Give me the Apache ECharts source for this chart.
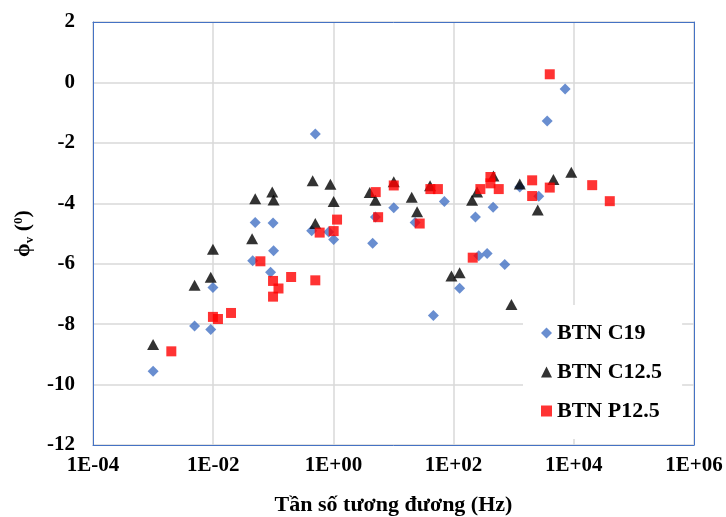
<!DOCTYPE html>
<html>
<head>
<meta charset="utf-8">
<script src="https://cdn.jsdelivr.net/npm/echarts@6/dist/echarts.min.js"></script>
<style>
html,body{margin:0;padding:0;background:#fff;}
#chart{width:726px;height:517px;}
</style>
</head>
<body>
<div id="chart"></div>
<script>
const seriesNames = ['BTN C19', 'BTN C12.5', 'BTN P12.5'];
const xTicks = [1e-4, 1e-2, 1e0, 1e2, 1e4, 1e6];
const yTicks = [-12, -10, -8, -6, -4, -2, 0, 2];

const c19X = [0.001, 0.0049, 0.0091, 0.0099, 0.050, 0.0454, 0.099, 0.101, 0.090, 0.50, 0.435, 0.834, 1.01, 4.5, 5.0, 10.1, 22.9, 70.3, 46.1, 126, 231, 262, 361, 455, 710, 1262, 2612, 3604, 7180];
const c19Y = [-9.56, -8.06, -8.18, -6.79, -4.64, -5.90, -4.65, -5.57, -6.28, -1.71, -4.91, -4.95, -5.20, -5.32, -4.45, -4.15, -4.64, -3.94, -7.71, -6.81, -4.45, -5.74, -5.66, -4.13, -6.03, -3.46, -3.77, -1.28, -0.22];

const c125X = [0.001, 0.0049, 0.0091, 0.0099, 0.0444, 0.050, 0.096, 0.101, 0.452, 0.50, 0.891, 1.01, 4.02, 5.0, 10.1, 20.1, 24.7, 40.6, 92, 126, 203, 246, 460, 917, 1262, 2512, 4581, 9080];
const c125Y = [-8.67, -6.71, -6.45, -5.52, -5.17, -3.85, -3.63, -3.89, -3.25, -4.67, -3.37, -3.94, -3.64, -3.90, -3.29, -3.80, -4.28, -3.42, -6.41, -6.30, -3.90, -3.63, -3.10, -7.35, -3.36, -4.22, -3.21, -2.97];

const p125X = [0.00201, 0.0099, 0.0120, 0.0198, 0.061, 0.099, 0.122, 0.099, 0.198, 0.50, 0.591, 1.01, 1.15, 5.06, 5.55, 10.1, 27.3, 41.1, 54.8, 208, 279, 410, 410, 564, 2028, 2028, 3981, 3981, 20230, 39700];
const p125Y = [-8.90, -7.76, -7.83, -7.63, -5.92, -6.57, -6.82, -7.09, -6.44, -6.55, -4.97, -4.92, -4.54, -3.63, -4.46, -3.41, -4.67, -3.53, -3.53, -5.80, -3.53, -3.13, -3.34, -3.53, -3.24, -3.76, -3.48, 0.27, -3.40, -3.93];

function zip(xs, ys) { return xs.map((x, i) => [x, ys[i]]); }

const FONT = '"Liberation Serif", "Times New Roman", serif';
const BORDER = '#4472C4';

function fmtX(v) {
  const e = Math.round(Math.log10(v));
  const s = e < 0 ? '-' : '+';
  const a = Math.abs(e);
  return '1E' + s + (a < 10 ? '0' + a : '' + a);
}

const xMin = xTicks[0], xMax = xTicks[xTicks.length - 1];
const yMin = yTicks[0], yMax = yTicks[yTicks.length - 1];

const chart = echarts.init(document.getElementById('chart'), null, {renderer: 'canvas'});
chart.setOption({
  animation: false,
  backgroundColor: '#fff',
  grid: {left: 93, right: 32, top: 22, bottom: 72, outerBoundsMode: 'none', containLabel: false},
  xAxis: [{
    type: 'log', logBase: 10, position: 'bottom',
    min: xMin, max: xMax, interval: 2,
    axisLine: {show: true, onZero: false, lineStyle: {color: BORDER, width: 1}},
    axisTick: {show: false},
    splitLine: {show: true, lineStyle: {color: '#D9D9D9', width: 1.5}},
    minorTick: {show: false},
    axisLabel: {
      formatter: fmtX, color: '#000', fontFamily: FONT, fontWeight: 'bold', fontSize: 21, margin: 10
    },
    name: 'Tần số tương đương (Hz)',
    nameLocation: 'middle', nameGap: 49,
    nameTextStyle: {color: '#000', fontFamily: FONT, fontWeight: 'bold', fontSize: 22}
  }, {
    type: 'log', logBase: 10, position: 'top',
    min: xMin, max: xMax, interval: 2,
    axisLine: {show: true, onZero: false, lineStyle: {color: BORDER, width: 1}},
    axisTick: {show: false}, axisLabel: {show: false}, splitLine: {show: false}
  }],
  yAxis: [{
    type: 'value', position: 'left',
    min: yMin, max: yMax, interval: 2,
    axisLine: {show: true, onZero: false, lineStyle: {color: BORDER, width: 1}},
    axisTick: {show: false},
    splitLine: {show: true, lineStyle: {color: '#D9D9D9', width: 1.5}},
    axisLabel: {color: '#000', fontFamily: FONT, fontWeight: 'bold', fontSize: 21, margin: 18},
    name: '{a|ϕ}{sub|v}{a| (}{sup|0}{a|)}',
    nameLocation: 'middle', nameRotate: 90, nameGap: 56,
    nameTextStyle: {
      color: '#000', fontFamily: FONT, fontWeight: 'bold', fontSize: 22,
      rich: {
        a: {fontFamily: FONT, fontWeight: 'bold', fontSize: 22, color: '#000'},
        sub: {fontFamily: FONT, fontWeight: 'bold', fontSize: 13, color: '#000', padding: [12, 0, 0, 0]},
        sup: {fontFamily: FONT, fontWeight: 'bold', fontSize: 13, color: '#000', padding: [0, 0, 10, 0]}
      }
    }
  }, {
    type: 'value', position: 'right',
    min: yMin, max: yMax, interval: 2,
    axisLine: {show: true, onZero: false, lineStyle: {color: BORDER, width: 1}},
    axisTick: {show: false}, axisLabel: {show: false}, splitLine: {show: false}
  }],
  legend: {
    orient: 'vertical',
    left: 523, top: 305,
    padding: [17, 20, 17, 18],
    backgroundColor: '#fff',
    itemGap: 17,
    itemWidth: 11, itemHeight: 11,
    textStyle: {color: '#000', fontFamily: FONT, fontWeight: 'bold', fontSize: 22, lineHeight: 22},
    data: [
      {name: seriesNames[0], icon: 'diamond'},
      {name: seriesNames[1], icon: 'triangle'},
      {name: seriesNames[2], icon: 'rect'}
    ]
  },
  series: [
    {name: seriesNames[0], type: 'scatter', symbol: 'diamond', symbolSize: 11,
     itemStyle: {color: '#4472C4'}, data: zip(c19X, c19Y)},
    {name: seriesNames[1], type: 'scatter', symbol: 'triangle', symbolSize: [12, 11],
     itemStyle: {color: '#000000'}, data: zip(c125X, c125Y)},
    {name: seriesNames[2], type: 'scatter', symbol: 'rect', symbolSize: 10,
     itemStyle: {color: '#FF0000'}, data: zip(p125X, p125Y)}
  ]
});
</script>
</body>
</html>
